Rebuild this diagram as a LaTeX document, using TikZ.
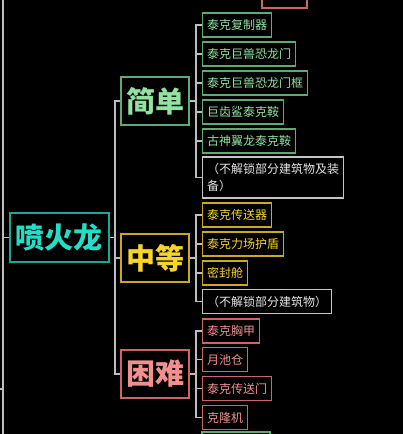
\documentclass[tikz,border=0pt]{standalone}
\usepackage{fontspec}
\setmainfont{Noto Sans CJK SC}
\definecolor{lineg}{HTML}{BDBDBD}
\definecolor{rootT}{HTML}{22DEC8}
\definecolor{rootB}{HTML}{19A898}
\definecolor{grnT}{HTML}{92E2A2}
\definecolor{grnB}{HTML}{62A872}
\definecolor{yelT}{HTML}{F7D52A}
\definecolor{yelB}{HTML}{C9A922}
\definecolor{redT}{HTML}{F29090}
\definecolor{redB}{HTML}{C96666}
\definecolor{gryT}{HTML}{E6E6E6}
\definecolor{gryB}{HTML}{C4C4C4}
\tikzset{
  x=1pt,y=-1pt,
  conn/.style={draw=lineg,line width=1.4pt},
  bigbox/.style={draw,line width=1.4pt,inner sep=0pt,minimum width=68pt,minimum height=48pt,
    font=\fontsize{29}{32}\selectfont\bfseries},
  leaf/.style={draw,line width=1.3pt,inner xsep=4.5pt,inner ysep=0pt,minimum height=24pt,anchor=west,
    font=\fontsize{12}{17}\selectfont},
  rootbox/.style={bigbox,draw=rootB,text=rootT,minimum width=99pt,minimum height=49pt},
  gbig/.style={bigbox,draw=grnB,text=grnT},
  ybig/.style={bigbox,draw=yelB,text=yelT},
  rbig/.style={bigbox,draw=redB,text=redT},
  gleaf/.style={leaf,draw=grnB,text=grnT},
  yleaf/.style={leaf,draw=yelB,text=yelT},
  rleaf/.style={leaf,draw=redB,text=redT},
  wleaf/.style={leaf,draw=gryB,text=gryT},
}
\begin{document}
\begin{tikzpicture}
\fill[black] (0,0) rectangle (403,434);
\useasboundingbox (0,0) rectangle (403,434);
\clip (0,0) rectangle (403,434);
% partial boxes at the edges
\draw[redB,line width=1.3pt] (262,-16) rectangle (307,8);
\draw[grnB,line width=1.3pt] (202,432) rectangle (270,456);
% root and categories
\node[rootbox] (root) at (59.5,237.5) {喷火龙};
\node[gbig] (easy) at (155,101) {简单};
\node[ybig] (mid) at (155,258) {中等};
\node[rbig] (hard) at (155,374) {困难};
% leaves
\node[gleaf] (e1) at (202,25) {泰克复制器};
\node[gleaf] (e2) at (202,54) {泰克巨兽恐龙门};
\node[gleaf] (e3) at (202,83) {泰克巨兽恐龙门框};
\node[gleaf] (e4) at (202,112) {巨齿鲨泰克鞍};
\node[gleaf] (e5) at (202,141) {古神翼龙泰克鞍};
\node[wleaf,align=left,minimum height=41pt,text width=132pt] (e6) at (202,177.5) {（不解锁部分建筑物及装\\备）};
\node[yleaf] (m1) at (202,215) {泰克传送器};
\node[yleaf] (m2) at (202,244) {泰克力场护盾};
\node[yleaf] (m3) at (202,273) {密封舱};
\node[wleaf] (m4) at (202,301.5) {（不解锁部分建筑物）};
\node[rleaf] (h1) at (202,331) {泰克胸甲};
\node[rleaf] (h2) at (202,359.5) {月池仓};
\node[rleaf] (h3) at (202,388.5) {泰克传送门};
\node[rleaf] (h4) at (202,417.5) {克隆机};
% hubs
\coordinate (top) at (3,0);
\coordinate (bot) at (3,434);
\coordinate (rj) at (3,237.5);
\coordinate (pj) at (3,389);
\coordinate (pe) at (0,389);
\coordinate (h0) at (115,237.5);
\coordinate (he) at (196,101);
\coordinate (hm) at (196,258);
\coordinate (hh) at (196,374);
% connectors
\draw[conn] (top) -- (bot);
\draw[conn] (rj) -- (root.west);
\draw[conn] (pj) -- (pe);
\draw[conn] (root.east) -- (h0);
\foreach \c in {easy,mid,hard} \draw[conn] (h0) |- (\c.west);
\draw[conn] (easy.east) -- (he);
\foreach \c in {e1,e2,e3,e4,e5,e6} \draw[conn] (he) |- (\c.west);
\draw[conn] (mid.east) -- (hm);
\foreach \c in {m1,m2,m3,m4} \draw[conn] (hm) |- (\c.west);
\draw[conn] (hard.east) -- (hh);
\foreach \c in {h1,h2,h3,h4} \draw[conn] (hh) |- (\c.west);
\end{tikzpicture}
\end{document}
